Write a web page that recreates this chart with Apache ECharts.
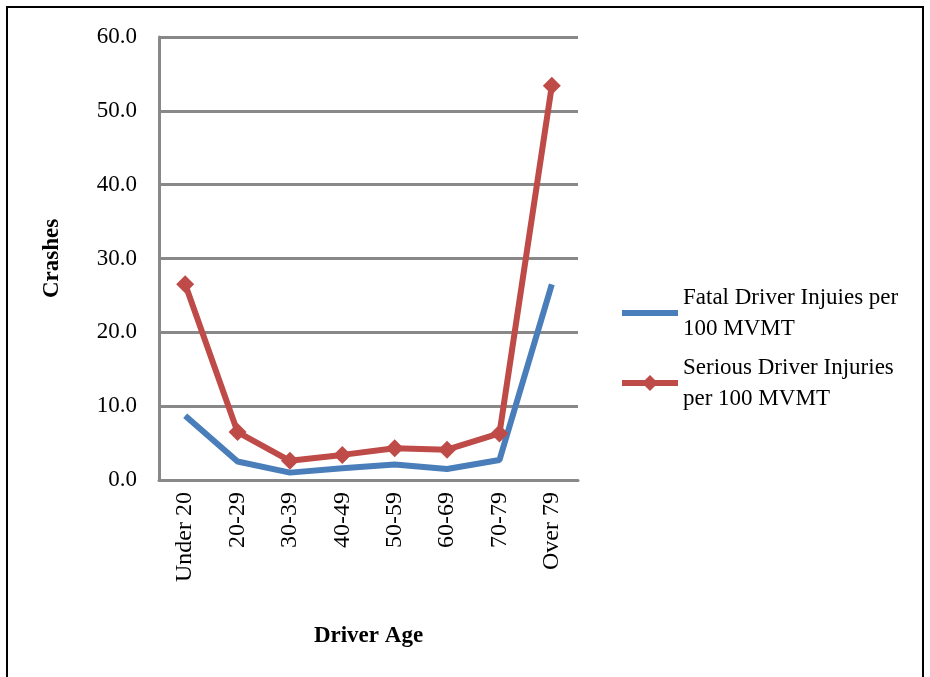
<!DOCTYPE html>
<html>
<head>
<meta charset="utf-8">
<script src="https://cdn.jsdelivr.net/npm/echarts@6/dist/echarts.min.js"></script>
<style>
  html, body { margin: 0; padding: 0; background: #fff; }
  #chart { width: 930px; height: 677px; }
</style>
</head>
<body>
<div id="chart"></div>
<script>
// driver age vs injuries per 100 MVMT
var ages = ['Under 20', '20-29', '30-39', '40-49', '50-59', '60-69', '70-79', 'Over 79'];
var fatal = [8.7, 2.5, 1.0, 1.6, 2.1, 1.5, 2.7, 26.5];
var serious = [26.5, 6.5, 2.6, 3.4, 4.3, 4.1, 6.3, 53.4];
var fatalName = 'Fatal Driver Injuies per 100 MVMT';
var seriousName = 'Serious Driver Injuries per 100 MVMT';

var chart = echarts.init(document.getElementById('chart'));
var serif = '"Liberation Serif", "DejaVu Serif", serif';

var option = {
    animation: false,
    backgroundColor: '#fff',
    textStyle: { fontFamily: serif },
    graphic: [{
        type: 'rect',
        shape: { x: 7, y: 7, width: 916, height: 690 },
        style: { fill: 'none', stroke: '#000', lineWidth: 2 },
        silent: true
    }],
    grid: { left: 159, right: 352, top: 37, bottom: 197 },
    legend: {
        orient: 'vertical',
        left: 614,
        top: 277,
        itemWidth: 56,
        itemHeight: 20,
        itemGap: 8,
        lineStyle: { width: 6 },
        data: [
            { name: fatalName, itemStyle: { opacity: 0 } },
            { name: seriousName }
        ],
        formatter: function (name) {
            return name === fatalName ? 'Fatal Driver Injuies per\n100 MVMT' : 'Serious Driver Injuries\nper 100 MVMT';
        },
        textStyle: { fontFamily: serif, fontSize: 23, color: '#000', lineHeight: 31 }
    },
    xAxis: {
        type: 'category',
        data: ages,
        boundaryGap: true,
        name: 'Driver Age',
        nameLocation: 'middle',
        nameGap: 145,
        nameTextStyle: { fontFamily: serif, fontSize: 23, fontWeight: 'bold', color: '#000' },
        axisLine: { lineStyle: { color: '#888', width: 3 } },
        axisTick: { show: false },
        axisLabel: { rotate: 90, fontSize: 24, color: '#000', margin: 12, fontFamily: serif }
    },
    yAxis: {
        type: 'value',
        min: 0,
        max: 60,
        interval: 10,
        name: 'Crashes',
        nameLocation: 'middle',
        nameGap: 95,
        nameTextStyle: { fontFamily: serif, fontSize: 23, fontWeight: 'bold', color: '#000' },
        axisLine: { show: true, lineStyle: { color: '#888', width: 3 } },
        axisTick: { show: false },
        splitLine: { lineStyle: { color: '#888', width: 3 } },
        axisLabel: {
            fontSize: 23, color: '#000', margin: 22, fontFamily: serif,
            formatter: function (v) { return v.toFixed(1); }
        }
    },
    series: [{
        name: fatalName,
        type: 'line',
        data: fatal,
        symbol: 'none',
        lineStyle: { color: '#4a7ebb', width: 6 },
        itemStyle: { color: '#4a7ebb' }
    }, {
        name: seriousName,
        type: 'line',
        data: serious,
        symbol: 'diamond',
        symbolSize: 18,
        lineStyle: { color: '#be4b48', width: 6 },
        itemStyle: { color: '#be4b48' }
    }]
};
chart.setOption(option);
</script>
</body>
</html>
